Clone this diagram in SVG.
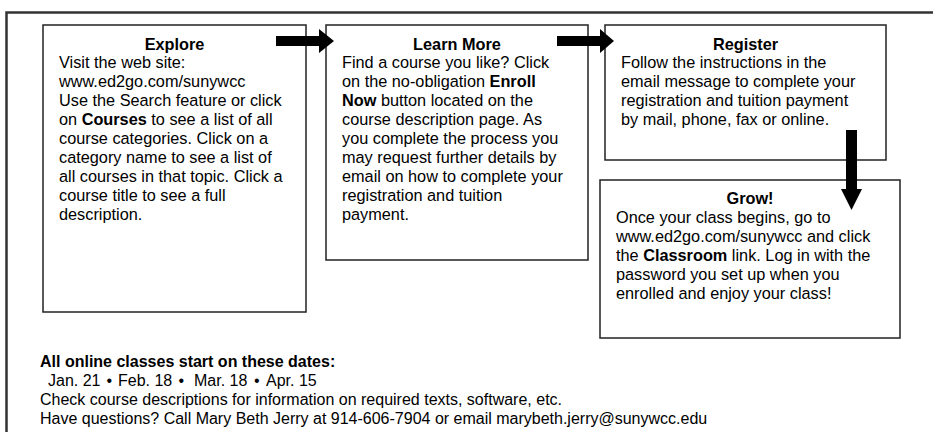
<svg xmlns="http://www.w3.org/2000/svg" width="933" height="432" viewBox="0 0 933 432">
<style>
.frame{fill:none;stroke:#333;stroke-width:2.5}
.box{fill:#fff;stroke:#222;stroke-width:1.5}
.t{font-family:"Liberation Sans",Arial,Helvetica,sans-serif;font-size:16.3px;fill:#000;white-space:pre}
.b{font-weight:bold}
.c{text-anchor:middle}
.bt{font-family:"Liberation Sans",Arial,Helvetica,sans-serif;font-size:16px;fill:#000;white-space:pre}
.arrow{fill:#000}
</style>
<rect class="frame" x="6.5" y="12.5" width="940" height="440"/>
<g id="explore">
<rect class="box" x="43" y="25" width="263" height="287"/>
<text class="t b c" x="174.5" y="49.5">Explore</text>
<text class="t" x="59" y="67.5">Visit the web site:</text>
<text class="t" x="59" y="86.5">www.ed2go.com/sunywcc</text>
<text class="t" x="59" y="105.5">Use the Search feature or click</text>
<text class="t" x="59" y="124.5">on <tspan class="b">Courses</tspan> to see a list of all</text>
<text class="t" x="59" y="143.5">course categories. Click on a</text>
<text class="t" x="59" y="162.5">category name to see a list of</text>
<text class="t" x="59" y="181.5">all courses in that topic. Click a</text>
<text class="t" x="59" y="200.5">course title to see a full</text>
<text class="t" x="59" y="219.5">description.</text>
</g>
<g id="learn-more">
<rect class="box" x="326" y="25" width="262" height="235"/>
<text class="t b c" x="457" y="49.5">Learn More</text>
<text class="t" x="342" y="67.5">Find a course you like? Click</text>
<text class="t" x="342" y="86.5">on the no-obligation <tspan class="b">Enroll</tspan></text>
<text class="t" x="342" y="105.5"><tspan class="b">Now</tspan> button located on the</text>
<text class="t" x="342" y="124.5">course description page. As</text>
<text class="t" x="342" y="143.5">you complete the process you</text>
<text class="t" x="342" y="162.5">may request further details by</text>
<text class="t" x="342" y="181.5">email on how to complete your</text>
<text class="t" x="342" y="200.5">registration and tuition</text>
<text class="t" x="342" y="219.5">payment.</text>
</g>
<g id="register">
<rect class="box" x="605" y="25" width="281" height="135"/>
<text class="t b c" x="745.5" y="49.5">Register</text>
<text class="t" x="621" y="67.5">Follow the instructions in the</text>
<text class="t" x="621" y="86.5">email message to complete your</text>
<text class="t" x="621" y="105.5">registration and tuition payment</text>
<text class="t" x="621" y="124.5">by mail, phone, fax or online.</text>
</g>
<g id="grow">
<rect class="box" x="600" y="180" width="300" height="158"/>
<text class="t b c" x="750" y="203.5">Grow!</text>
<text class="t" x="616" y="222.5">Once your class begins, go to</text>
<text class="t" x="616" y="241.5">www.ed2go.com/sunywcc and click</text>
<text class="t" x="616" y="260.5">the <tspan class="b">Classroom</tspan> link. Log in with the</text>
<text class="t" x="616" y="279.5">password you set up when you</text>
<text class="t" x="616" y="298.5">enrolled and enjoy your class!</text>
</g>
<g id="connectors">
<polygon class="arrow" points="276,36 319,36 319,29 334,41 319,53 319,46 276,46"/>
<polygon class="arrow" points="557,36 600,36 600,29 614,41 600,53 600,46 557,46"/>
<polygon class="arrow" points="846,130 857,130 857,189 862,189 851.5,210 841,189 846,189"/>
</g>
<g id="footer">
<text class="bt b" x="40" y="367">All online classes start on these dates:</text>
<text class="bt" y="386"><tspan x="48">Jan. 21</tspan><tspan x="106.5">•</tspan><tspan x="118">Feb. 18</tspan><tspan x="178.5">•</tspan><tspan x="194">Mar. 18</tspan><tspan x="254">•</tspan><tspan x="266">Apr. 15</tspan></text>
<text class="bt" x="40" y="405">Check course descriptions for information on required texts, software, etc.</text>
<text class="bt" x="40" y="424">Have questions? Call Mary Beth Jerry at 914-606-7904 or email marybeth.jerry@sunywcc.edu</text>
</g>
</svg>
